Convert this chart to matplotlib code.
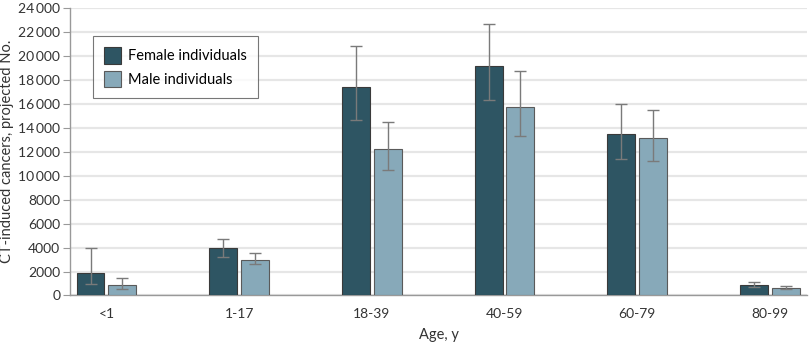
import numpy as np
import matplotlib.pyplot as plt

# age groups on x axis
ages = ["<1", "1-17", "18-39", "40-59", "60-79", "80-99"]

# projected CT-induced cancers
female = [1880, 3980, 17400, 19150, 13500, 850]
female_lo = [930, 3230, 14650, 16280, 11400, 680]
female_hi = [4000, 4680, 20820, 22630, 15980, 1120]

male = [900, 2970, 12230, 15750, 13100, 600]
male_lo = [570, 2620, 10430, 13320, 11230, 520]
male_hi = [1430, 3570, 14430, 18680, 15470, 820]

yticks = list(range(0, 24001, 2000))

c_female = "#2e5563"
c_male = "#87a9b9"
c_err = "#7a7a7a"

plt.rcParams["font.family"] = ["Lato", "DejaVu Sans"]

fig = plt.figure(figsize=(8.1, 3.44), dpi=100)
ax = fig.add_axes([0.0864, 0.141, 0.9099, 0.837])

x = np.arange(len(ages))
w = 0.21
off = 0.12

f = np.array(female)
m = np.array(male)
ferr = [f - np.array(female_lo), np.array(female_hi) - f]
merr = [m - np.array(male_lo), np.array(male_hi) - m]

ax.bar(x - off, f, w, color=c_female, edgecolor="#3a3a3a", linewidth=0.8,
       label="Female individuals", zorder=3)
ax.bar(x + off, m, w, color=c_male, edgecolor="#5a5a5a", linewidth=0.8,
       label="Male individuals", zorder=3)
ax.errorbar(x - off, f, yerr=ferr, fmt="none", ecolor=c_err, elinewidth=1,
            capsize=4.5, capthick=1, zorder=4)
ax.errorbar(x + off, m, yerr=merr, fmt="none", ecolor=c_err, elinewidth=1,
            capsize=4.5, capthick=1, zorder=4)

ax.set_xlim(-0.275, len(ages) - 1 + 0.28)
ax.set_ylim(0, 24000)
ax.set_yticks(yticks)
ax.set_yticklabels([f"{v // 1000}\u2009000" if v >= 10000 else str(v) for v in yticks])
ax.set_xticks(x)
ax.set_xticklabels(ages)
ax.tick_params(axis="x", length=0, pad=9, labelsize=10, colors="#333333")
ax.tick_params(axis="y", length=5, width=0.8, color="#999999", pad=2,
               labelsize=10, labelcolor="#333333")

ax.grid(axis="y", color="#e6e6e6", linewidth=1.6, zorder=0)
for s in ["top", "right"]:
    ax.spines[s].set_visible(False)
ax.spines["left"].set_color("#999999")
ax.spines["bottom"].set_color("#999999")
ax.spines["left"].set_linewidth(1)
ax.spines["bottom"].set_linewidth(1)

ax.set_xlabel("Age, y", fontsize=10.5, color="#333333", labelpad=6)
ax.set_ylabel("CT-induced cancers, projected No.", fontsize=10.5, color="#333333",
              labelpad=3)

leg = ax.legend(loc="upper left", bbox_to_anchor=(0.022, 0.925), fontsize=10.5,
                frameon=True, fancybox=False, edgecolor="#555555",
                handlelength=1.15, handleheight=1.35, handletextpad=0.5,
                borderpad=0.75, labelspacing=0.5)
leg.get_frame().set_linewidth(0.8)

fig.savefig("out.png", dpi=100)
